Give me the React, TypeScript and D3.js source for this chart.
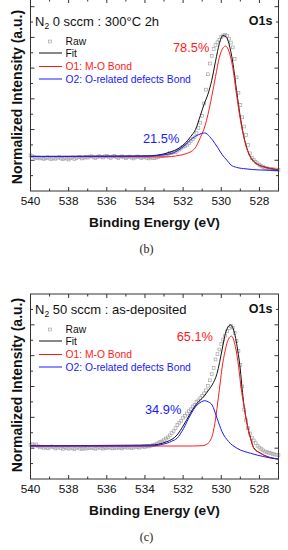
import React from "react";
import * as d3 from "d3";

// binding energy axis
const xTicks = [540, 538, 536, 534, 532, 530, 528];
const xMinorTicks = [539, 537, 535, 533, 531, 529];
const yTicks = [0.1, 0.2, 0.3, 0.4, 0.5, 0.6, 0.7, 0.8, 0.9, 1.0, 1.1, 1.2];

// raw spectra sampled every 0.1 eV from 540.0 down to 527.0
const rawEnergy = d3.range(131).map((i) => +(540 - i * 0.1).toFixed(1));

const rawB = [
  0.232, 0.226, 0.221, 0.214, 0.218, 0.212, 0.216, 0.209, 0.213, 0.219,
  0.211, 0.207, 0.214, 0.21, 0.216, 0.22, 0.212, 0.208, 0.215, 0.211,
  0.205, 0.213, 0.218, 0.209, 0.214, 0.219, 0.221, 0.212, 0.216, 0.222,
  0.217, 0.224, 0.226, 0.219, 0.214, 0.221, 0.227, 0.223, 0.218, 0.225,
  0.229, 0.221, 0.216, 0.224, 0.228, 0.22, 0.215, 0.222, 0.226, 0.219,
  0.213, 0.22, 0.224, 0.217, 0.212, 0.219, 0.225, 0.221, 0.214, 0.218,
  0.223, 0.216, 0.212, 0.219, 0.215, 0.213,
  0.218, 0.222, 0.229, 0.226, 0.232, 0.231, 0.24, 0.248, 0.246, 0.252,
  0.253, 0.263, 0.27, 0.279, 0.288, 0.293, 0.301, 0.313, 0.325, 0.337,
  0.35, 0.378, 0.41, 0.445, 0.49, 0.57, 0.66, 0.76, 0.83, 0.88,
  0.925, 0.95, 0.968, 0.984, 1.003,
  1.012, 1.016, 1.01, 0.992, 0.966, 0.935, 0.86, 0.74, 0.64, 0.56,
  0.48, 0.42, 0.365, 0.3, 0.245, 0.215, 0.203, 0.19, 0.18, 0.17,
  0.162, 0.156, 0.151, 0.148, 0.145, 0.143, 0.141, 0.14, 0.139, 0.138,
];

const rawC = [
  0.222, 0.226, 0.218, 0.224, 0.212, 0.205, 0.21, 0.202, 0.208, 0.199,
  0.204, 0.211, 0.206, 0.198, 0.203, 0.209, 0.2, 0.196, 0.205, 0.201,
  0.197, 0.203, 0.199, 0.194, 0.2, 0.206, 0.198, 0.195, 0.201, 0.197,
  0.203, 0.199, 0.205, 0.2, 0.196, 0.202, 0.207, 0.201, 0.197, 0.204,
  0.2, 0.206, 0.203, 0.198, 0.204, 0.2, 0.207, 0.202, 0.198, 0.205,
  0.209, 0.203, 0.206, 0.2, 0.204, 0.21, 0.207, 0.203, 0.209, 0.212,
  0.208, 0.214, 0.211, 0.216, 0.219, 0.222,
  0.228, 0.232, 0.24, 0.244, 0.252, 0.262, 0.27, 0.283, 0.298, 0.31,
  0.33, 0.35, 0.365, 0.378, 0.398, 0.41, 0.425, 0.44, 0.452, 0.47,
  0.482, 0.5, 0.51, 0.525, 0.54, 0.555, 0.575, 0.605, 0.64, 0.68,
  0.72, 0.775, 0.81, 0.84, 0.875,
  0.905, 0.93, 0.958, 0.978, 0.993, 0.982, 0.948, 0.895, 0.83, 0.74,
  0.6, 0.45, 0.38, 0.33, 0.295, 0.268, 0.25, 0.232, 0.216, 0.204,
  0.194, 0.186, 0.178, 0.174, 0.17, 0.166, 0.163, 0.159, 0.157, 0.155,
];

// fitted curves, [energy, intensity]
const fitB: [number, number][] = [
  [540, 0.225], [534, 0.228], [533.3, 0.234], [532.7, 0.252], [532.2, 0.28],
  [531.9, 0.31], [531.6, 0.355], [531.35, 0.4], [531.1, 0.49], [530.9, 0.565],
  [530.7, 0.63], [530.5, 0.72], [530.3, 0.845], [530.1, 0.96], [529.92, 1.012],
  [529.75, 1.005], [529.6, 0.96], [529.4, 0.84], [529.2, 0.655], [529.0, 0.48],
  [528.8, 0.345], [528.6, 0.258], [528.4, 0.208], [528.1, 0.174], [527.7, 0.155],
  [527, 0.138],
];
const o1B: [number, number][] = [
  [540, 0.225], [533, 0.222], [532.2, 0.232], [531.8, 0.245], [531.4, 0.275],
  [531.1, 0.347], [530.85, 0.425], [530.7, 0.497], [530.5, 0.615], [530.3, 0.746],
  [530.1, 0.87], [529.9, 0.933], [529.78, 0.944], [529.6, 0.91], [529.4, 0.805],
  [529.2, 0.628], [529.0, 0.465], [528.8, 0.34], [528.6, 0.255], [528.4, 0.206],
  [528.1, 0.173], [527.7, 0.154], [527, 0.137],
];
const o2B: [number, number][] = [
  [540, 0.225], [535, 0.226], [534, 0.227], [533, 0.236], [532.5, 0.249],
  [532, 0.288], [531.5, 0.344], [531.2, 0.366], [530.87, 0.378], [530.6, 0.353],
  [530.45, 0.33], [530.2, 0.285], [529.95, 0.236], [529.7, 0.2], [529.5, 0.17],
  [529.2, 0.154], [528.7, 0.144], [528, 0.137], [527, 0.134],
];

const fitC: [number, number][] = [
  [540, 0.216], [533.72, 0.22], [532.85, 0.242], [532.32, 0.285], [531.97, 0.35],
  [531.62, 0.426], [531.27, 0.491], [530.92, 0.534], [530.66, 0.577], [530.48, 0.61],
  [530.22, 0.685], [529.96, 0.837], [529.78, 0.945], [529.52, 0.999], [529.35, 0.966],
  [529.14, 0.837], [529.0, 0.707], [528.91, 0.588], [528.82, 0.49], [528.64, 0.355],
  [528.47, 0.268], [528.3, 0.203], [527.95, 0.168], [527.6, 0.146], [527, 0.13],
];
const o1C: [number, number][] = [
  [540, 0.214], [533, 0.214], [531.5, 0.214], [531.0, 0.216], [530.8, 0.223],
  [530.6, 0.245], [530.45, 0.29], [530.3, 0.39], [530.15, 0.53], [530.05, 0.63],
  [529.96, 0.72], [529.8, 0.83], [529.68, 0.89], [529.47, 0.927], [529.26, 0.858],
  [529.09, 0.728], [528.96, 0.59], [528.82, 0.48], [528.64, 0.35], [528.47, 0.264],
  [528.3, 0.2], [527.95, 0.167], [527.6, 0.145], [527, 0.13],
];
const o2C: [number, number][] = [
  [540, 0.214], [535, 0.214], [533.72, 0.215], [533.2, 0.222], [532.85, 0.232],
  [532.6, 0.245], [532.32, 0.264], [531.97, 0.329], [531.62, 0.415], [531.27, 0.48],
  [531.05, 0.5], [530.87, 0.508], [530.68, 0.5], [530.48, 0.48], [530.22, 0.394],
  [529.96, 0.307], [529.61, 0.242], [529.17, 0.199], [528.47, 0.167], [527.77, 0.145],
  [527, 0.128],
];

const legendLabels = ["Raw", "Fit", "O1: M-O Bond", "O2: O-related defects Bond"];

const FONT = "'Liberation Sans', Arial, sans-serif";
const RED = "#ff1a1a";
const BLUE = "#1a1aff";
const GRAY = "#a4a4a4";
const AXIS = "#333";

type PanelProps = {
  top: number;
  bottom: number;
  yMax: number;
  raw: number[];
  fit: [number, number][];
  o1: [number, number][];
  o2: [number, number][];
  cond: string;
  p1: string;
  p2: string;
  p1Pos: [number, number];
  p2Pos: [number, number];
  caption: string;
};

const Panel = ({ top, bottom, yMax, raw, fit, o1, o2, cond, p1, p2, p1Pos, p2Pos, caption }: PanelProps) => {
  const left = 30.5;
  const right = 278.5;
  const x = d3.scaleLinear().domain([540, 527]).range([left, right]);
  const y = d3.scaleLinear().domain([0, yMax]).range([bottom, top]);
  const line = d3
    .line<[number, number]>()
    .x((d) => x(d[0]))
    .y((d) => y(d[1]))
    .curve(d3.curveMonotoneX);
  const b = bottom;
  const rows = [b - 149.5, b - 138, b - 124.5, b - 112];

  return (
    <g fontFamily={FONT}>
      <defs>
        <clipPath id={`clip-${caption}`}>
          <rect x={left} y={top} width={right - left} height={bottom - top} />
        </clipPath>
      </defs>
      <g clipPath={`url(#clip-${caption})`}>
        {raw.map((v, i) => (
          <rect
            key={i}
            x={x(rawEnergy[i]) - 1.4}
            y={y(v) - 1.4}
            width={2.8}
            height={2.8}
            fill="none"
            stroke={GRAY}
            strokeWidth={0.7}
          />
        ))}
        <path d={line(fit) || ""} fill="none" stroke="#111" strokeWidth={1} />
        <path d={line(o1) || ""} fill="none" stroke={RED} strokeWidth={1} />
        <path d={line(o2) || ""} fill="none" stroke={BLUE} strokeWidth={1} />
      </g>

      {/* frame */}
      <rect x={left} y={top} width={right - left} height={bottom - top} fill="none" stroke={AXIS} strokeWidth={1} />

      {/* x ticks */}
      {xTicks.map((t) => (
        <g key={t}>
          <line x1={x(t)} x2={x(t)} y1={b} y2={b - 4} stroke={AXIS} />
          <line x1={x(t)} x2={x(t)} y1={top} y2={top + 4} stroke={AXIS} />
          <text x={x(t)} y={b + 14} fontSize={11.8} textAnchor="middle" fill="#111">
            {t}
          </text>
        </g>
      ))}
      {xMinorTicks.map((t) => (
        <g key={t}>
          <line x1={x(t)} x2={x(t)} y1={b} y2={b - 2.5} stroke={AXIS} />
          <line x1={x(t)} x2={x(t)} y1={top} y2={top + 2.5} stroke={AXIS} />
        </g>
      ))}
      {/* y ticks */}
      {yTicks
        .filter((t) => t < yMax)
        .map((t, i) => {
          const len = i % 2 === 1 ? 4 : 2.5;
          return (
            <g key={t}>
              <line x1={left} x2={left + len} y1={y(t)} y2={y(t)} stroke={AXIS} />
              <line x1={right} x2={right - len} y1={y(t)} y2={y(t)} stroke={AXIS} />
            </g>
          );
        })}

      {/* condition and O1s */}
      <text x={35} y={b - 165.5} fontSize={13} fill="#111">
        N<tspan fontSize={8.5} dy={3}>2</tspan>
        <tspan dy={-3}>{cond}</tspan>
      </text>
      <text x={272.5} y={b - 166} fontSize={12.5} fontWeight="bold" textAnchor="end" fill="#111">
        O1s
      </text>

      {/* legend */}
      <rect x={48.6} y={rows[0] - 1.4} width={2.8} height={2.8} fill="none" stroke={GRAY} strokeWidth={0.7} />
      <line x1={39} x2={62} y1={rows[1]} y2={rows[1]} stroke="#111" />
      <line x1={39} x2={62} y1={rows[2]} y2={rows[2]} stroke={RED} />
      <line x1={39} x2={62} y1={rows[3]} y2={rows[3]} stroke={BLUE} />
      {legendLabels.map((l, i) => (
        <text
          key={l}
          x={65.5}
          y={rows[i] + 3.6}
          fontSize={10.3}
          fill={i === 2 ? RED : i === 3 ? BLUE : "#111"}
        >
          {l}
        </text>
      ))}

      {/* percentages */}
      <text x={p1Pos[0]} y={p1Pos[1]} fontSize={12.8} fill={RED}>
        {p1}
      </text>
      <text x={p2Pos[0]} y={p2Pos[1]} fontSize={12.8} fill={BLUE}>
        {p2}
      </text>

      {/* axis titles */}
      <text x={154.5} y={b + 35.5} fontSize={13.7} fontWeight="bold" textAnchor="middle" fill="#111">
        Binding Energy (eV)
      </text>
      <text
        transform={`translate(21.5,${b - 94}) rotate(-90)`}
        fontSize={14}
        fontWeight="bold"
        textAnchor="middle"
        fill="#111"
      >
        Normalized Intensity (a.u.)
      </text>
      <text
        x={146.5}
        y={b + 62}
        fontSize={12}
        textAnchor="middle"
        fontFamily="'Liberation Serif', 'Times New Roman', serif"
        fill="#222"
      >
        {caption}
      </text>
    </g>
  );
};

export default function App() {
  return (
    <svg
      width={288}
      height={550}
      style={{ position: "absolute", left: 0, top: 0, background: "#fff" }}
    >
      <Panel
        top={-1}
        bottom={191}
        yMax={1.25}
        raw={rawB}
        fit={fitB}
        o1={o1B}
        o2={o2B}
        cond=" 0 sccm : 300°C 2h"
        p1="78.5%"
        p2="21.5%"
        p1Pos={[173, 52]}
        p2Pos={[143, 142.5]}
        caption="(b)"
      />
      <Panel
        top={294}
        bottom={479}
        yMax={1.2}
        raw={rawC}
        fit={fitC}
        o1={o1C}
        o2={o2C}
        cond=" 50 sccm : as-deposited"
        p1="65.1%"
        p2="34.9%"
        p1Pos={[176.7, 340.5]}
        p2Pos={[145, 414]}
        caption="(c)"
      />
    </svg>
  );
}
